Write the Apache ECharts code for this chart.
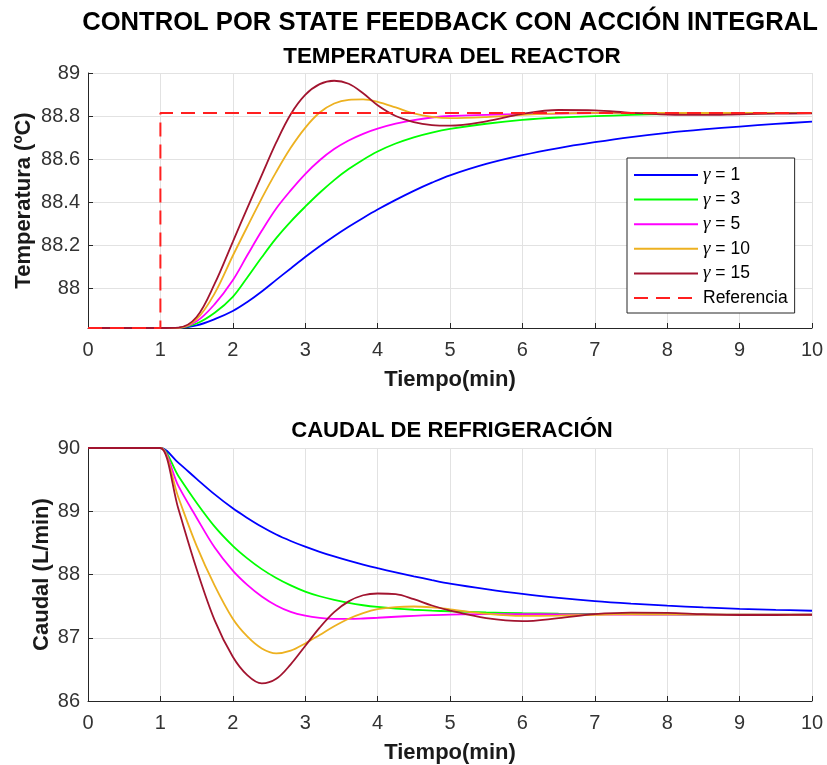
<!DOCTYPE html>
<html>
<head>
<meta charset="utf-8">
<script src="https://cdn.jsdelivr.net/npm/echarts@6/dist/echarts.min.js"></script>
<style>
  html, body { margin: 0; padding: 0; background: #ffffff; }
  #chart { width: 827px; height: 765px; }
</style>
</head>
<body>
<div id="chart"></div>
<script>
// Time base (min) shared by every simulated response
const tiempo = [0, 0.9, 1, 1.25, 1.5, 1.75, 2, 2.2, 2.4, 2.6, 2.8, 3, 3.2, 3.4, 3.6, 3.8, 4, 4.25, 4.5, 4.75, 5, 5.5, 6, 6.5, 7, 7.5, 8, 8.5, 9, 9.5, 10];

// Reactor temperature (ºC) for each integral gain
const temp_g1  = [87.814, 87.814, 87.814, 87.815, 87.826, 87.855, 87.893, 87.935, 87.984, 88.038, 88.091, 88.144, 88.194, 88.241, 88.285, 88.326, 88.365, 88.410, 88.452, 88.490, 88.524, 88.577, 88.618, 88.651, 88.678, 88.702, 88.722, 88.738, 88.751, 88.763, 88.774];
const temp_g3  = [87.814, 87.814, 87.814, 87.815, 87.835, 87.885, 87.959, 88.049, 88.143, 88.232, 88.309, 88.378, 88.443, 88.502, 88.553, 88.597, 88.635, 88.672, 88.701, 88.723, 88.740, 88.764, 88.782, 88.793, 88.799, 88.805, 88.809, 88.811, 88.812, 88.813, 88.813];
const temp_g5  = [87.814, 87.814, 87.814, 87.815, 87.845, 87.925, 88.036, 88.152, 88.266, 88.370, 88.454, 88.530, 88.594, 88.646, 88.686, 88.717, 88.741, 88.764, 88.781, 88.793, 88.800, 88.805, 88.809, 88.811, 88.813, 88.813, 88.813, 88.813, 88.813, 88.813, 88.813];
const temp_g10 = [87.814, 87.814, 87.814, 87.815, 87.855, 87.975, 88.150, 88.285, 88.417, 88.540, 88.652, 88.745, 88.816, 88.858, 88.875, 88.877, 88.866, 88.840, 88.812, 88.796, 88.790, 88.795, 88.805, 88.812, 88.815, 88.815, 88.814, 88.814, 88.814, 88.814, 88.814];
const temp_g15 = [87.814, 87.814, 87.814, 87.816, 87.865, 88.020, 88.215, 88.372, 88.525, 88.677, 88.808, 88.898, 88.948, 88.964, 88.950, 88.906, 88.850, 88.800, 88.772, 88.758, 88.755, 88.775, 88.810, 88.828, 88.826, 88.815, 88.807, 88.805, 88.808, 88.811, 88.812];

// Temperature set-point step
const refTiempo = [0, 1, 1, 10];
const refTemp   = [87.814, 87.814, 88.814, 88.814];

// Cooling flow (L/min) for each integral gain
const flow_g1  = [90, 90, 90, 89.764, 89.512, 89.266, 89.046, 88.895, 88.755, 88.632, 88.530, 88.440, 88.359, 88.285, 88.218, 88.156, 88.100, 88.035, 87.972, 87.912, 87.857, 87.770, 87.694, 87.632, 87.580, 87.540, 87.507, 87.480, 87.458, 87.441, 87.427];
const flow_g3  = [90, 90, 90, 89.553, 89.134, 88.757, 88.453, 88.255, 88.085, 87.945, 87.828, 87.730, 87.656, 87.597, 87.550, 87.514, 87.487, 87.462, 87.443, 87.429, 87.418, 87.400, 87.388, 87.381, 87.376, 87.372, 87.369, 87.367, 87.366, 87.365, 87.365];
const flow_g5  = [90, 90, 90, 89.396, 88.898, 88.426, 88.060, 87.835, 87.652, 87.510, 87.408, 87.348, 87.313, 87.298, 87.297, 87.304, 87.316, 87.332, 87.347, 87.358, 87.366, 87.372, 87.372, 87.370, 87.368, 87.366, 87.365, 87.365, 87.365, 87.365, 87.365];
const flow_g10 = [90, 90, 90, 89.213, 88.453, 87.824, 87.300, 87.020, 86.830, 86.752, 86.795, 86.910, 87.045, 87.182, 87.300, 87.390, 87.452, 87.485, 87.494, 87.480, 87.450, 87.380, 87.345, 87.350, 87.362, 87.372, 87.370, 87.367, 87.365, 87.365, 87.365];
const flow_g15 = [90, 90, 90, 89.030, 88.087, 87.275, 86.700, 86.410, 86.278, 86.350, 86.580, 86.870, 87.160, 87.405, 87.575, 87.672, 87.700, 87.690, 87.610, 87.510, 87.430, 87.310, 87.262, 87.310, 87.372, 87.396, 87.393, 87.372, 87.360, 87.360, 87.364];

// Legend labels and axis tick values
const gains = ['γ = 1', 'γ = 3', 'γ = 5', 'γ = 10', 'γ = 15'];
const refName = 'Referencia';
const tempTicks = [88, 88.2, 88.4, 88.6, 88.8, 89];

const colors = ['#0000ff', '#00ff00', '#ff00ff', '#edb120', '#a2142f'];
const FONT = '"Liberation Sans", Arial, Helvetica, sans-serif';
const AXIS_COLOR = '#262626';
const GRID_COLOR = '#e2e2e2';

const tempSets = [temp_g1, temp_g3, temp_g5, temp_g10, temp_g15];
const flowSets = [flow_g1, flow_g3, flow_g5, flow_g10, flow_g15];

function pairs(xs, ys) { return xs.map((x, i) => [x, ys[i]]); }

function curve(name, color, data, idx) {
  return {
    type: 'line', name: name, data: data,
    xAxisIndex: idx, yAxisIndex: idx,
    symbol: 'none', smooth: 0.35, clip: false,
    lineStyle: { color: color, width: 1.8 },
    itemStyle: { color: color },
    emphasis: { disabled: true }
  };
}

const series = [];
gains.forEach((g, i) => series.push(curve(g, colors[i], pairs(tiempo, tempSets[i]), 0)));
series.push({
  type: 'line', name: refName, data: pairs(refTiempo, refTemp),
  xAxisIndex: 0, yAxisIndex: 0, symbol: 'none', smooth: false, clip: false,
  lineStyle: { color: '#ff1f1f', width: 2, type: [14, 8] },
  itemStyle: { color: '#ff1f1f' },
  emphasis: { disabled: true }
});
gains.forEach((g, i) => series.push(curve(g, colors[i], pairs(tiempo, flowSets[i]), 1)));

function xAxisCfg(gridIndex) {
  return {
    type: 'value', gridIndex: gridIndex, min: 0, max: 10, interval: 1,
    name: 'Tiempo(min)', nameLocation: 'middle', nameGap: 41, nameMoveOverlap: false,
    nameTextStyle: { fontFamily: FONT, fontSize: 22, fontWeight: 'bold', color: '#1a1a1a' },
    axisLine: { show: true, onZero: false, lineStyle: { color: AXIS_COLOR, width: 1 } },
    axisTick: { show: true, inside: true, length: 5, lineStyle: { color: AXIS_COLOR } },
    axisLabel: { fontFamily: FONT, fontSize: 20, color: '#333333', margin: 12 },
    splitLine: { show: true, lineStyle: { color: GRID_COLOR, width: 1 } }
  };
}

const option = {
  animation: false,
  backgroundColor: '#ffffff',
  graphic: [
    { type: 'text', x: 450, y: 23, style: { text: 'CONTROL POR STATE FEEDBACK CON ACCIÓN INTEGRAL', font: 'bold 25.6px ' + FONT, fill: '#000000', textAlign: 'center', textVerticalAlign: 'middle' } },
    { type: 'text', x: 452, y: 57, style: { text: 'TEMPERATURA DEL REACTOR', font: 'bold 22.4px ' + FONT, fill: '#000000', textAlign: 'center', textVerticalAlign: 'middle' } },
    { type: 'text', x: 452, y: 431, style: { text: 'CAUDAL DE REFRIGERACIÓN', font: 'bold 22.1px ' + FONT, fill: '#000000', textAlign: 'center', textVerticalAlign: 'middle' } }
  ],
  grid: [
    { left: 88, top: 73, width: 724, height: 255 },
    { left: 88, top: 448, width: 724, height: 255 }
  ],
  xAxis: [xAxisCfg(0), xAxisCfg(1)],
  yAxis: [
    {
      type: 'value', gridIndex: 0, min: 87.814, max: 89,
      name: 'Temperatura (ºC)', nameLocation: 'middle', nameRotate: 90, nameGap: 53, nameMoveOverlap: false,
      nameTextStyle: { fontFamily: FONT, fontSize: 22, fontWeight: 'bold', color: '#1a1a1a' },
      axisLine: { show: true, lineStyle: { color: AXIS_COLOR, width: 1 } },
      axisTick: { show: true, inside: true, length: 5, lineStyle: { color: AXIS_COLOR }, customValues: tempTicks },
      axisLabel: { fontFamily: FONT, fontSize: 20, color: '#333333', margin: 8, customValues: tempTicks },
      splitLine: { show: true, lineStyle: { color: GRID_COLOR, width: 1 } }
    },
    {
      type: 'value', gridIndex: 1, min: 86, max: 90, interval: 1,
      name: 'Caudal (L/min)', nameLocation: 'middle', nameRotate: 90, nameGap: 35, nameMoveOverlap: false,
      nameTextStyle: { fontFamily: FONT, fontSize: 22, fontWeight: 'bold', color: '#1a1a1a' },
      axisLine: { show: true, lineStyle: { color: AXIS_COLOR, width: 1 } },
      axisTick: { show: true, inside: true, length: 5, lineStyle: { color: AXIS_COLOR } },
      axisLabel: { fontFamily: FONT, fontSize: 20, color: '#333333', margin: 8 },
      splitLine: { show: true, lineStyle: { color: GRID_COLOR, width: 1 } }
    }
  ],
  legend: {
    orient: 'vertical', left: 627, top: 158,
    padding: [7, 7, 5, 6],
    itemWidth: 64, itemHeight: 14, itemGap: 4.6,
    selectedMode: false,
    itemStyle: { opacity: 0, borderWidth: 0 },
    backgroundColor: '#ffffff', borderColor: AXIS_COLOR, borderWidth: 1, borderRadius: 0,
    data: gains.concat([refName]),
    formatter: function (name) {
      return name.charAt(0) === 'γ' ? '{g|γ}' + name.slice(1) : name;
    },
    textStyle: {
      fontFamily: FONT, fontSize: 17.5, lineHeight: 20, color: '#000000',
      rich: { g: { fontFamily: '"Liberation Serif", "DejaVu Serif", serif', fontStyle: 'italic', fontSize: 19, lineHeight: 20, color: '#000000' } }
    }
  },
  series: series
};

const chart = echarts.init(document.getElementById('chart'), null, { renderer: 'canvas' });
chart.setOption(option);
</script>
</body>
</html>
